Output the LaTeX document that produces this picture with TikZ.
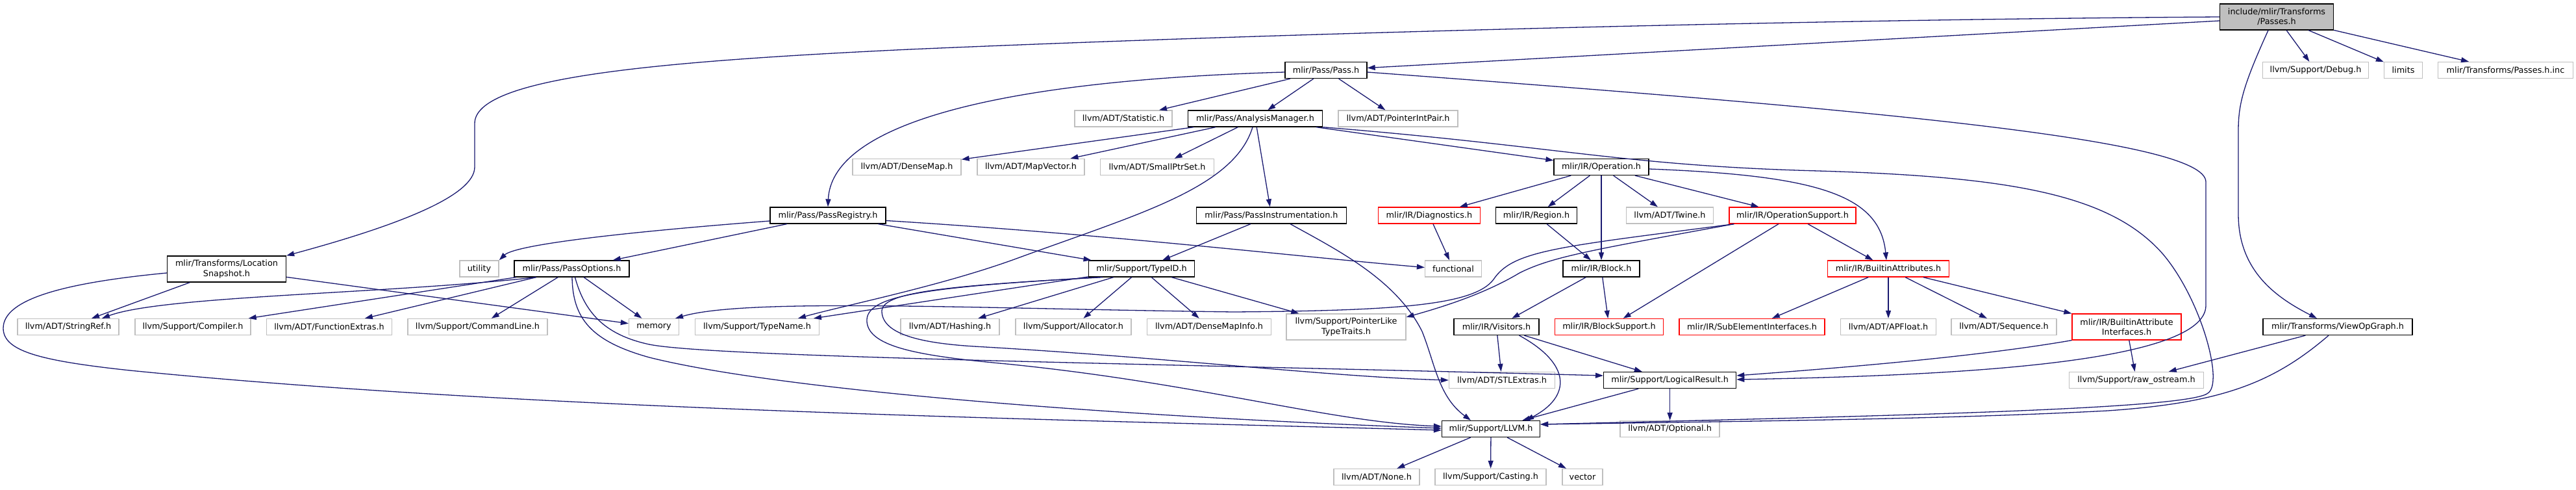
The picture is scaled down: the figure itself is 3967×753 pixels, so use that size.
\documentclass[tikz,border=0pt]{standalone}
\usepackage{fontspec}
\setmainfont{DejaVu Sans}
\usetikzlibrary{arrows.meta,positioning}
\definecolor{edgeblue}{RGB}{25,25,112}
\definecolor{extgray}{RGB}{191,191,191}

\begin{document}
\begin{tikzpicture}[x=1pt,y=-1pt,
    filebox/.style={rectangle,inner sep=0pt,minimum height=25pt,align=center,fill=white,font=\fontsize{12.8}{15.4}\selectfont},
    doc/.style={filebox,draw=black,line width=1.3pt},
    trunc/.style={filebox,draw=red,line width=1.3pt},
    ext/.style={filebox,draw=extgray,line width=1.3pt},
    rootbox/.style={doc,fill=extgray},
    dep/.style={draw=edgeblue,line width=1.3pt,-{Triangle[length=12pt,width=8pt]}}]
  \useasboundingbox (0,0) rectangle (3967,753);
  % top rows
  \node[rootbox,minimum width=175pt,minimum height=40pt] (root) at (3506,26) {include/mlir/Transforms\\/Passes.h};
  \node[ext,minimum width=163pt] (debug) at (3566,108) {llvm/Support/Debug.h};
  \node[ext,minimum width=59pt] (limits) at (3701,108) {limits};
  \node[ext,minimum width=208pt] (passinc) at (3858.5,108) {mlir/Transforms/Passes.h.inc};
  \node[doc,minimum width=126pt] (pass) at (2042,108) {mlir/Pass/Pass.h};
  \node[ext,minimum width=150pt] (statistic) at (1730,182.5) {llvm/ADT/Statistic.h};
  \node[doc,minimum width=207pt] (analysis) at (1933,182.5) {mlir/Pass/AnalysisManager.h};
  \node[ext,minimum width=184pt] (ptrintpair) at (2153,182.5) {llvm/ADT/PointerIntPair.h};
  \node[ext,minimum width=167pt] (densemap) at (1396.5,257) {llvm/ADT/DenseMap.h};
  \node[ext,minimum width=165pt] (mapvector) at (1587.5,257) {llvm/ADT/MapVector.h};
  \node[ext,minimum width=175pt] (smallptrset) at (1782,257) {llvm/ADT/SmallPtrSet.h};
  \node[doc,minimum width=146pt] (operation) at (2466,257) {mlir/IR/Operation.h};
  \node[doc,minimum width=178pt] (registry) at (1275,331.5) {mlir/Pass/PassRegistry.h};
  \node[doc,minimum width=231pt] (instr) at (1958,331.5) {mlir/Pass/PassInstrumentation.h};
  \node[trunc,minimum width=157pt] (diag) at (2201,331.5) {mlir/IR/Diagnostics.h};
  \node[doc,minimum width=125pt] (region) at (2366,331.5) {mlir/IR/Region.h};
  \node[ext,minimum width=134pt] (twine) at (2571.5,331.5) {llvm/ADT/Twine.h};
  \node[trunc,minimum width=195pt] (opsupport) at (2760.5,331.5) {mlir/IR/OperationSupport.h};
  % middle rows
  \node[doc,minimum width=183pt,minimum height=40pt] (locsnap) at (349,414) {mlir/Transforms/Location\\Snapshot.h};
  \node[ext,minimum width=60pt] (utility) at (738,413.5) {utility};
  \node[doc,minimum width=177pt] (options) at (880.5,413.5) {mlir/Pass/PassOptions.h};
  \node[doc,minimum width=163pt] (typeid) at (1758,413.5) {mlir/Support/TypeID.h};
  \node[ext,minimum width=87pt] (functional) at (2238,413.5) {functional};
  \node[doc,minimum width=118pt] (block) at (2466,413.5) {mlir/IR/Block.h};
  \node[trunc,minimum width=187pt] (builtinattr) at (2908,413.5) {mlir/IR/BuiltinAttributes.h};
  \node[ext,minimum width=156pt] (stringref) at (105,503) {llvm/ADT/StringRef.h};
  \node[ext,minimum width=178pt] (compiler) at (297,503) {llvm/Support/Compiler.h};
  \node[ext,minimum width=193pt] (funcextras) at (507,503) {llvm/ADT/FunctionExtras.h};
  \node[ext,minimum width=215pt] (cmdline) at (735.5,503) {llvm/Support/CommandLine.h};
  \node[ext,minimum width=77pt] (memory) at (1007,503) {memory};
  \node[ext,minimum width=191pt] (typename) at (1166,503) {llvm/Support/TypeName.h};
  \node[ext,minimum width=152pt] (hashing) at (1463,503) {llvm/ADT/Hashing.h};
  \node[ext,minimum width=178pt] (allocator) at (1653,503) {llvm/Support/Allocator.h};
  \node[ext,minimum width=191pt] (densemapinfo) at (1862,503) {llvm/ADT/DenseMapInfo.h};
  \node[ext,minimum width=184pt,minimum height=40pt] (ptrliketraits) at (2073,503) {llvm/Support/PointerLike\\TypeTraits.h};
  \node[doc,minimum width=131pt] (visitors) at (2304.5,503) {mlir/IR/Visitors.h};
  \node[trunc,minimum width=167pt] (blocksupport) at (2478,503) {mlir/IR/BlockSupport.h};
  \node[trunc,minimum width=224pt] (subelem) at (2698,503) {mlir/IR/SubElementInterfaces.h};
  \node[ext,minimum width=147pt] (apfloat) at (2908,503) {llvm/ADT/APFloat.h};
  \node[ext,minimum width=162pt] (sequence) at (3086,503) {llvm/ADT/Sequence.h};
  \node[trunc,minimum width=168pt,minimum height=40pt] (attrifaces) at (3275,503) {mlir/IR/BuiltinAttribute\\Interfaces.h};
  \node[doc,minimum width=230pt] (viewop) at (3600,503) {mlir/Transforms/ViewOpGraph.h};
  % bottom rows
  \node[ext,minimum width=163pt] (stlextras) at (2313,585) {llvm/ADT/STLExtras.h};
  \node[doc,minimum width=204pt] (logical) at (2571.6,585) {mlir/Support/LogicalResult.h};
  \node[ext,minimum width=207pt] (rawostream) at (3290,585) {llvm/Support/raw\_ostream.h};
  \node[doc,minimum width=151pt] (llvmh) at (2296,660) {mlir/Support/LLVM.h};
  \node[ext,minimum width=153pt] (optional) at (2571.6,660) {llvm/ADT/Optional.h};
  \node[ext,minimum width=132pt] (none) at (2120,734) {llvm/ADT/None.h};
  \node[ext,minimum width=171pt] (casting) at (2295.5,734) {llvm/Support/Casting.h};
  \node[ext,minimum width=62pt] (vector) at (2437,734) {vector};

  % edges from the root
  \draw[dep] (root.west) .. controls (2800,30) and (2000,50) .. (1400,76) .. controls (1000,95) and (731,120) .. (731,190) -- (731,257) .. controls (731,300) and (620,345) .. (locsnap.north east);
  \draw[dep] ([yshift=-6pt]root.west) -- (pass);
  \draw[dep] (root) -- (debug);
  \draw[dep] (root) -- (limits);
  \draw[dep] (root) -- (passinc);
  \draw[dep] ([xshift=-13pt]root.south) .. controls (3455,130) and (3447,160) .. (3447,200) -- (3447,330) .. controls (3447,420) and (3510,460) .. ([xshift=-32pt]viewop.north);
  % Pass.h
  \draw[dep] ([yshift=-3pt]pass.west) .. controls (1500,125) and (1280,200) .. (registry.north);
  \draw[dep] (pass) -- (statistic);
  \draw[dep] (pass) -- (analysis);
  \draw[dep] (pass) -- (ptrintpair);
  \draw[dep] ([yshift=-3pt]pass.east) .. controls (2900,170) and (3397,215) .. (3397,280) -- (3397,470) .. controls (3397,560) and (3000,578) .. ([yshift=1pt]logical.east);
  % AnalysisManager.h
  \draw[dep] (analysis) -- (densemap);
  \draw[dep] (analysis) -- (mapvector);
  \draw[dep] (analysis) -- (smallptrset);
  \draw[dep] (analysis) -- (instr);
  \draw[dep] (analysis) -- (operation);
  \draw[dep] ([xshift=-4pt]analysis.south) .. controls (1900,290) and (1750,330) .. (1565,398) .. controls (1450,440) and (1300,470) .. ([xshift=63pt]typename.north);
  \draw[dep] (analysis.south east) .. controls (2400,225) and (2500,255) .. (2800,263) .. controls (3100,272) and (3250,300) .. (3330,390) .. controls (3390,460) and (3425,590) .. (3400,605) .. controls (3370,630) and (2900,640) .. ([yshift=7pt]llvmh.east);
  % PassInstrumentation.h
  \draw[dep] (instr) -- (typeid);
  \draw[dep] ([xshift=29pt]instr.south) .. controls (2060,385) and (2150,430) .. (2190,510) .. controls (2210,560) and (2215,610) .. ([xshift=-31pt]llvmh.north);
  % PassRegistry.h
  \draw[dep] ([yshift=-8.5pt]registry.west) .. controls (900,362) and (790,380) .. (utility.north east);
  \draw[dep] (registry) -- (options);
  \draw[dep] (registry) -- (typeid);
  \draw[dep] ([yshift=-8pt]registry.east) .. controls (1700,360) and (2000,395) .. ([yshift=2pt]functional.west);
  % PassOptions.h
  \draw[dep] ([xshift=-55pt]options.south) .. controls (600,452) and (250,455) .. ([xshift=52pt]stringref.north);
  \draw[dep] (options) -- (compiler);
  \draw[dep] (options) -- (funcextras);
  \draw[dep] (options) -- (cmdline);
  \draw[dep] (options) -- (memory);
  \draw[dep] ([xshift=0.5pt]options.south) .. controls (882,490) and (910,525) .. (1000,550) .. controls (1200,600) and (1700,640) .. ([yshift=1pt]llvmh.west);
  \draw[dep] ([xshift=5pt]options.south) .. controls (900,480) and (930,515) .. (1000,530) .. controls (1100,550) and (1800,560) .. ([yshift=7pt]logical.west);
  % TypeID.h
  \draw[dep] (typeid) -- (typename);
  \draw[dep] (typeid) -- (hashing);
  \draw[dep] (typeid) -- (allocator);
  \draw[dep] (typeid) -- (densemapinfo);
  \draw[dep] (typeid) -- (ptrliketraits);
  \draw[dep] ([xshift=-60pt]typeid.south) .. controls (1450,440) and (1356,450) .. (1358,480) .. controls (1360,515) and (1420,528) .. (1500,533) .. controls (1800,550) and (2050,580) .. (stlextras.west);
  \draw[dep] ([xshift=-64pt]typeid.south) .. controls (1420,442) and (1332,455) .. (1335,495) .. controls (1338,535) and (1420,548) .. (1550,560) .. controls (1850,590) and (2050,650) .. ([yshift=4pt]llvmh.west);
  % LocationSnapshot.h
  \draw[dep] (locsnap) -- (stringref);
  \draw[dep] (locsnap) -- (memory);
  \draw[dep] ([yshift=-6pt]locsnap.west) .. controls (100,435) and (5,460) .. (5,505) .. controls (5,540) and (60,555) .. (200,570) .. controls (800,630) and (1600,645) .. ([yshift=-2pt]llvmh.west);
  % Operation.h
  \draw[dep] (operation) -- (diag);
  \draw[dep] (operation) -- (region);
  \draw[dep] (operation) -- (block);
  \draw[dep] (operation) -- (twine);
  \draw[dep] (operation) -- (opsupport);
  \draw[dep] ([yshift=-3pt]operation.east) .. controls (2800,270) and (2895,300) .. ([xshift=-3pt]builtinattr.north);
  % OperationSupport.h
  \draw[dep] (opsupport) -- (blocksupport);
  \draw[dep] (opsupport) -- (builtinattr);
  \draw[dep] ([xshift=8pt]opsupport.south west) .. controls (2450,385) and (2390,395) .. (2340,420) .. controls (2290,450) and (2230,470) .. ([yshift=15pt]ptrliketraits.east);
  \draw[dep] ([xshift=8pt]opsupport.south west) .. controls (2400,380) and (2330,385) .. (2300,430) .. controls (2270,470) and (2150,478) .. (1900,480) .. controls (1500,475) and (1150,458) .. ([xshift=33pt]memory.north);
  % IR headers
  \draw[dep] (diag) -- (functional);
  \draw[dep] (region) -- (block);
  \draw[dep] (block) -- (visitors);
  \draw[dep] (block) -- (blocksupport);
  \draw[dep] (builtinattr) -- (subelem);
  \draw[dep] (builtinattr) -- (apfloat);
  \draw[dep] (builtinattr) -- (sequence);
  \draw[dep] (builtinattr) -- (attrifaces);
  \draw[dep] (attrifaces) -- (rawostream);
  \draw[dep] (attrifaces.south west) .. controls (3050,548) and (2850,565) .. ([yshift=7pt]logical.east);
  \draw[dep] (visitors) -- (stlextras);
  \draw[dep] (visitors) -- (logical);
  \draw[dep] ([xshift=35pt]visitors.south) .. controls (2420,560) and (2420,610) .. ([xshift=54pt]llvmh.north);
  % support headers
  \draw[dep] (logical) -- (llvmh);
  \draw[dep] (logical) -- (optional);
  \draw[dep] (llvmh) -- (none);
  \draw[dep] (llvmh) -- (casting);
  \draw[dep] (llvmh) -- (vector);
  % ViewOpGraph.h
  \draw[dep] (viewop) -- (rawostream);
  \draw[dep] ([xshift=-14pt]viewop.south) .. controls (3500,590) and (3420,620) .. (3246,632) .. controls (3000,645) and (2700,648) .. ([yshift=7pt]llvmh.east);
\end{tikzpicture}
\end{document}
